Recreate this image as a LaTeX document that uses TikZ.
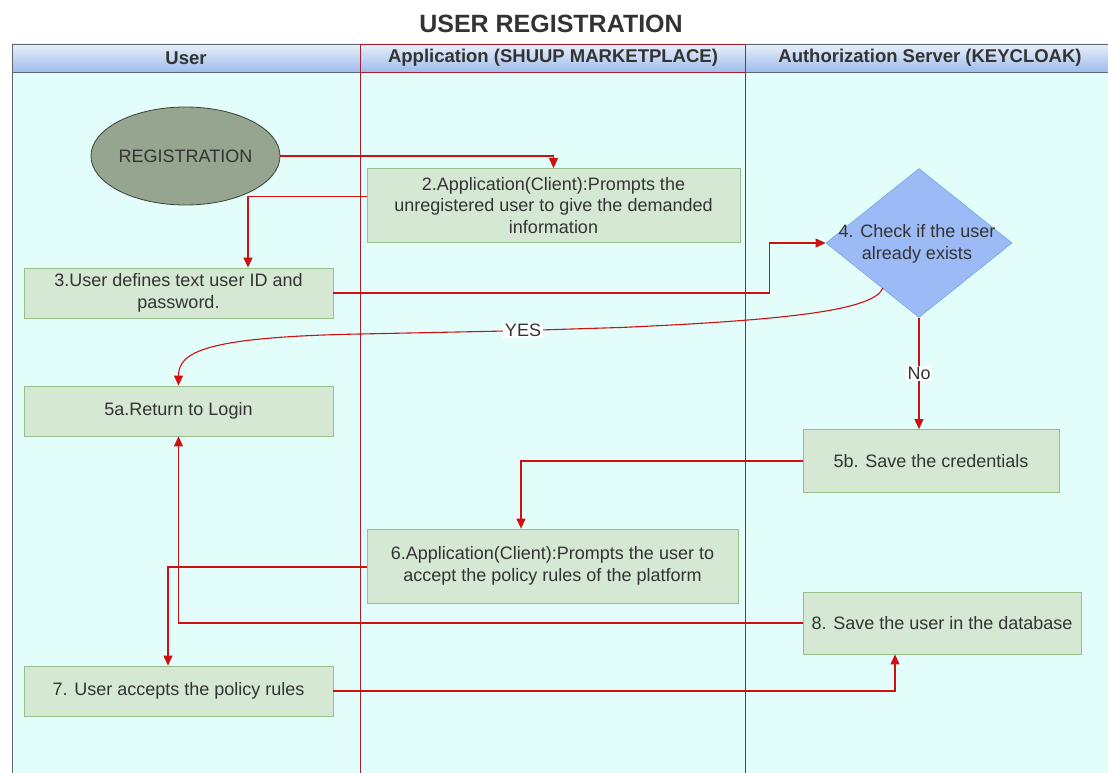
\documentclass[tikz,border=0pt]{standalone}
\usepackage{fontspec}
\setmainfont{Liberation Sans}
\usetikzlibrary{shapes.geometric,arrows.meta}
\definecolor{lanebg}{HTML}{E2FDFA}
\definecolor{boxfill}{HTML}{D5E8D4}
\definecolor{boxdraw}{HTML}{96C08A}
\definecolor{arrowred}{HTML}{D01010}
\definecolor{lanered}{HTML}{A82030}
\definecolor{lanegray}{HTML}{5C6870}
\definecolor{txt}{HTML}{333333}
\definecolor{ellfill}{HTML}{95A590}
\definecolor{elldraw}{HTML}{3A453A}
\definecolor{diafill}{HTML}{9CBAF6}
\definecolor{diadraw}{HTML}{7FB0E8}
\definecolor{hdtop}{HTML}{E8EFFB}
\definecolor{hdbot}{HTML}{9FBDEC}
\begin{document}
\begin{tikzpicture}[x=1pt,y=-1pt,
  stepbox/.style={draw=boxdraw, fill=boxfill, line width=0.8pt, text=txt,
    font=\fontsize{18}{21.7}\selectfont, align=center, inner sep=0pt},
  flow/.style={draw=arrowred, line width=1.1pt, -{Triangle[length=10pt,width=9pt]}},
  hdtext/.style={text=txt, font=\bfseries\fontsize{18.5}{22}\selectfont},
  lbl/.style={fill=white, text=txt, inner sep=1.5pt, font=\fontsize{18}{21.7}\selectfont}
]
\useasboundingbox (0,0) rectangle (1108,773);
\fill[white] (0,0) rectangle (1108,773);
% title
\node[text=txt, font=\bfseries\fontsize{25}{30}\selectfont] (title) at (551,24) {USER REGISTRATION};
% lanes
\fill[lanebg] (12,72) rectangle (1108,773);
\shade[top color=hdtop, bottom color=hdbot] (12,44) rectangle (1108,72);
\draw[lanegray, line width=0.9pt] (1108,44) -- (12,44) -- (12,773);
\draw[lanegray, line width=0.9pt] (12,72) -- (1108,72);
\draw[lanegray, line width=0.9pt] (745,44) -- (745,773);
\draw[lanered, line width=0.9pt] (360,773) -- (360,44) -- (745,44) -- (745,773);
\draw[lanered, line width=0.9pt] (360,72) -- (745,72);
\node[hdtext] (h1) at (186,58) {User};
\node[hdtext] (h2) at (553,58) {Application (SHUUP MARKETPLACE)};
\node[hdtext] (h3) at (930,58) {Authorization Server (KEYCLOAK)};
% nodes
\node[ellipse, draw=elldraw, fill=ellfill, line width=0.8pt, minimum width=175pt, minimum height=98pt,
  text=txt, font=\fontsize{18}{21.7}\selectfont, inner sep=0pt] (e) at (185.5,156) {REGISTRATION};
\node[stepbox, minimum width=373pt, minimum height=74pt] (b2) at (553.5,205.5)
  {2.Application(Client):Prompts the\\unregistered user to give the demanded\\information};
\node[stepbox, minimum width=309pt, minimum height=50pt] (b3) at (178.5,293)
  {3.User defines text user ID and\\password.};
\node[diamond, draw=diadraw, fill=diafill, line width=0.8pt, minimum width=186pt, minimum height=149pt,
  inner sep=0pt] (d) at (919,243) {};
\node[text=txt, font=\fontsize{18}{22}\selectfont, align=center, inner sep=0pt] (dt) at (917,244)
  {4. Check if the user\\already exists};
\node[stepbox, minimum width=309pt, minimum height=50pt] (b5a) at (178.5,411) {5a.Return to Login};
\node[stepbox, minimum width=256pt, minimum height=63pt] (b5b) at (931,461) {5b. Save the credentials};
\node[stepbox, minimum width=371pt, minimum height=74pt] (b6) at (552.5,566)
  {6.Application(Client):Prompts the user to\\accept the policy rules of the platform};
\node[stepbox, minimum width=309pt, minimum height=50pt] (b7) at (178.5,691) {7. User accepts the policy rules};
\node[stepbox, minimum width=278pt, minimum height=62pt] (b8) at (942,623) {8. Save the user in the database};
\coordinate (ys) at (883,288);
% connectors
\draw[flow] (e.east) -| (b2.north);
\draw[flow] ([yshift=9pt]b2.west) -| ([xshift=69.5pt]b3.north);
\draw[flow] (b3.east) -| ([xshift=-56pt]d.west) -- (d.west);
\draw[flow] (ys) .. controls (874,310) and (790,320) .. (620,327.5) -- (540,330)
  -- node[lbl] {YES} (506,331) -- (360,334) .. controls (205,337) and (178.5,352) .. (b5a.north);
\draw[flow] (d.south) -- node[lbl, pos=0.5] {No} (d.south |- b5b.north);
\draw[flow] (b5b.west) -| ([xshift=-31.5pt]b6.north);
\draw[flow] ([yshift=-1pt]b6.west) -| ([xshift=-10.5pt]b7.north);
\draw[flow] (b7.east) -| ([xshift=-47pt]b8.south);
\draw[flow] (b8.west) -| (b5a.south);
\end{tikzpicture}
\end{document}
